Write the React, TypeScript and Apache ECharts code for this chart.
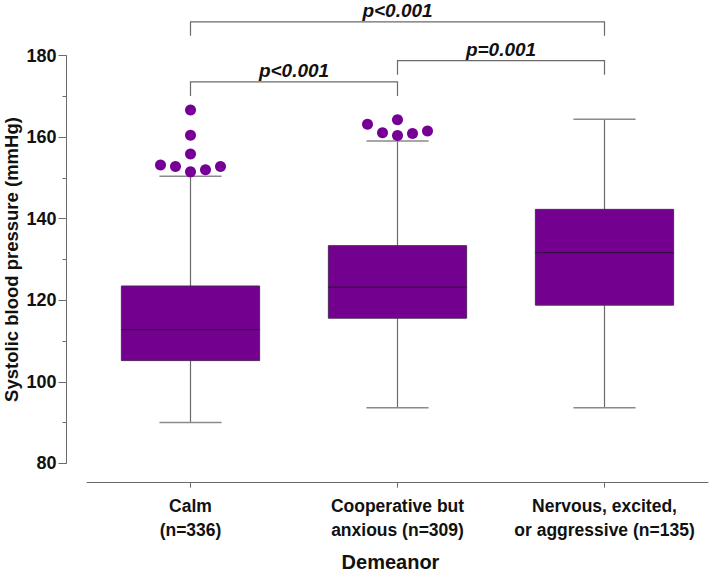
import React, { useEffect, useRef } from "react";
import * as echarts from "echarts";

const categories = ["Calm\n(n=336)", "Cooperative but\nanxious (n=309)", "Nervous, excited,\nor aggressive (n=135)"];
// [min whisker, Q1, median, Q3, max whisker]
const boxStats = [
  [90.0, 105.2, 112.8, 123.5, 150.4],
  [93.6, 115.6, 123.2, 133.4, 159.1],
  [93.6, 118.8, 131.7, 142.3, 164.4],
];
// outliers: [category index, value, beeswarm slot]
const outliers = [
  [0, 166.7, 0], [0, 160.5, 0], [0, 155.9, 0],
  [0, 153.2, -2], [0, 152.8, -1], [0, 151.5, 0], [0, 152.0, 1], [0, 152.8, 2],
  [1, 163.2, -2], [1, 161.1, -1], [1, 164.3, 0], [1, 160.4, 0], [1, 160.9, 1], [1, 161.5, 2],
];
// brackets: [from category, to category, bar level, drop end, label]
const brackets = [
  [0, 2, 188.3, 184.9, "p<0.001"],
  [1, 2, 178.8, 175.3, "p=0.001"],
  [0, 1, 173.6, 170.1, "p<0.001"],
];
const yTicks = { min: 80, max: 180, interval: 20 };

const FONT = "'Liberation Sans', Arial, Helvetica, sans-serif";
const PURPLE = "#74008f";
const GRAY = "#6a6a6a";

export default function App() {
  const ref = useRef<HTMLDivElement>(null);
  useEffect(() => {
    document.body.style.margin = "0";
    const chart = echarts.init(ref.current!, null, { renderer: "svg" });
    chart.setOption({
      animation: false,
      backgroundColor: "#ffffff",
      grid: { left: 87, right: 1, top: 55.7, bottom: 111.7, containLabel: false, outerBoundsMode: "none" },
      xAxis: {
        type: "category",
        data: categories,
        offset: 19.4,
        axisLine: { show: true, lineStyle: { color: GRAY, width: 1 } },
        axisTick: { show: true, alignWithLabel: true, length: 5, lineStyle: { color: GRAY } },
        axisLabel: { interval: 0, fontFamily: FONT, fontSize: 17.5, fontWeight: "bold", color: "#111", margin: 11, lineHeight: 24 },
        splitLine: { show: false },
        name: "Demeanor",
        nameLocation: "middle",
        nameGap: 69,
        nameMoveOverlap: false,
        nameTextStyle: { fontFamily: FONT, fontSize: 20, fontWeight: "bold", color: "#111", padding: [0, 14, 0, 0] },
      },
      yAxis: {
        type: "value",
        min: yTicks.min,
        max: yTicks.max,
        interval: yTicks.interval,
        offset: 20.5,
        axisLine: { show: true, lineStyle: { color: GRAY, width: 1 } },
        axisTick: { show: true, length: 8, lineStyle: { color: GRAY } },
        minorTick: { show: true, splitNumber: 2, length: 4, lineStyle: { color: GRAY } },
        splitLine: { show: false },
        axisLabel: { fontFamily: FONT, fontSize: 18, fontWeight: "bold", color: "#111", margin: 10 },
        name: "Systolic blood pressure (mmHg)",
        nameLocation: "middle",
        nameGap: 46,
        nameMoveOverlap: false,
        nameTextStyle: { fontFamily: FONT, fontSize: 18.5, fontWeight: "bold", color: "#111" },
      },
      series: [
        {
          type: "custom",
          data: boxStats.map((s, i) => [i, ...s]),
          encode: { x: 0, y: [1, 2, 3, 4, 5] },
          renderItem: (params: any, api: any) => {
            const i = api.value(0);
            const band = api.size([1, 0])[0];
            const bw = band * 0.668;
            const cw = band * 0.3;
            const pMin = api.coord([i, api.value(1)]);
            const pQ1 = api.coord([i, api.value(2)]);
            const pMed = api.coord([i, api.value(3)]);
            const pQ3 = api.coord([i, api.value(4)]);
            const pMax = api.coord([i, api.value(5)]);
            const x = pMin[0];
            const wl = { stroke: GRAY, lineWidth: 1.2 };
            return {
              type: "group",
              children: [
                { type: "line", shape: { x1: x, y1: pMin[1], x2: x, y2: pQ1[1] }, style: wl },
                { type: "line", shape: { x1: x, y1: pQ3[1], x2: x, y2: pMax[1] }, style: wl },
                { type: "line", shape: { x1: x - cw / 2, y1: pMin[1], x2: x + cw / 2, y2: pMin[1] }, style: { stroke: "#8a8a8a", lineWidth: 1.5 } },
                { type: "line", shape: { x1: x - cw / 2, y1: pMax[1], x2: x + cw / 2, y2: pMax[1] }, style: { stroke: "#8a8a8a", lineWidth: 1.5 } },
                {
                  type: "rect",
                  shape: { x: x - bw / 2, y: pQ3[1], width: bw, height: pQ1[1] - pQ3[1] },
                  style: { fill: PURPLE, stroke: "#4f2a5c", lineWidth: 1 },
                },
                { type: "line", shape: { x1: x - bw / 2, y1: pMed[1], x2: x + bw / 2, y2: pMed[1] }, style: { stroke: "#3a0a48", lineWidth: 1.2 } },
              ],
            };
          },
          z: 2,
        },
        {
          type: "custom",
          data: outliers,
          encode: { x: 0, y: 1 },
          renderItem: (params: any, api: any) => {
            const p = api.coord([api.value(0), api.value(1)]);
            const slot = api.value(2);
            return {
              type: "circle",
              shape: { cx: p[0] + slot * 15, cy: p[1], r: 5.5 },
              style: { fill: "#760096" },
            };
          },
          z: 3,
        },
        {
          type: "custom",
          data: brackets,
          encode: { x: [0, 1], y: [2, 3] },
          clip: false,
          renderItem: (params: any, api: any) => {
            const a = api.coord([api.value(0), api.value(2)]);
            const b = api.coord([api.value(1), api.value(2)]);
            const d = api.coord([api.value(0), api.value(3)]);
            const label = brackets[params.dataIndex][4] as string;
            const st = { stroke: GRAY, lineWidth: 1.2, fill: "none" };
            return {
              type: "group",
              children: [
                { type: "polyline", shape: { points: [[a[0], d[1]], [a[0], a[1]], [b[0], b[1]], [b[0], d[1]]] }, style: st },
                {
                  type: "text",
                  x: (a[0] + b[0]) / 2,
                  y: a[1] - 11.5,
                  style: {
                    text: label,
                    fontFamily: FONT,
                    fontSize: 19,
                    fontWeight: "bold",
                    fontStyle: "italic",
                    fill: "#111",
                    align: "center",
                    verticalAlign: "middle",
                  },
                },
              ],
            };
          },
          z: 4,
        },
      ],
    });
    return () => chart.dispose();
  }, []);
  return <div ref={ref} style={{ width: 709, height: 575 }} />;
}
